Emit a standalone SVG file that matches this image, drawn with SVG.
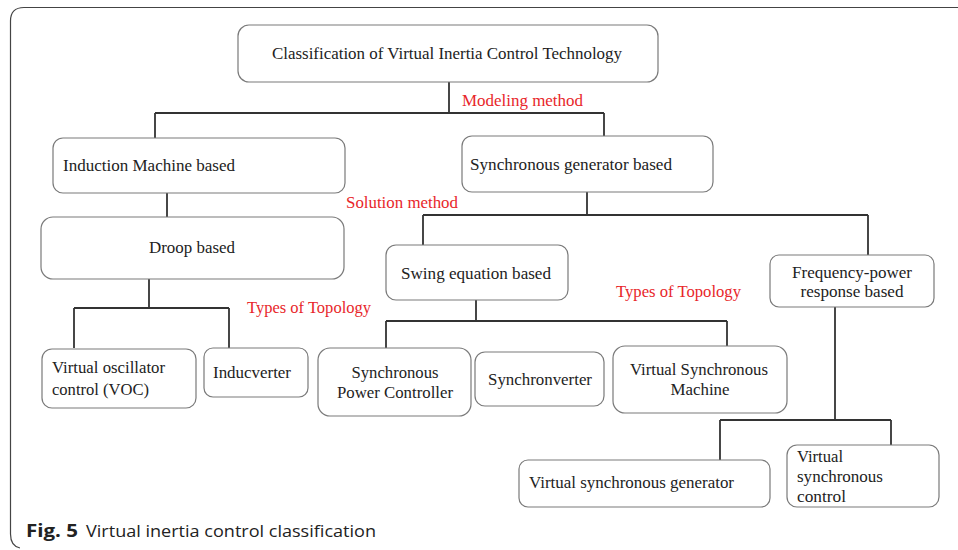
<svg xmlns="http://www.w3.org/2000/svg" width="958" height="550" viewBox="0 0 958 550">
<style>
.box{fill:#fff;stroke:#7a7a7a;stroke-width:1.2}
.t{font-family:"Liberation Serif","Times New Roman",serif;font-size:16px;fill:#222}
.m{text-anchor:middle}
.r{font-family:"Liberation Serif","Times New Roman",serif;font-size:16px;fill:#e8262a}
.c{fill:none;stroke:#333;stroke-width:1.8}
.cap{font-family:"Open Sans","Noto Sans","Liberation Sans",sans-serif;font-size:17px;fill:#222}
</style>
<rect width="958" height="550" fill="#fff"/>
<path d="M958 7.5 H24 Q10.5 7.5 10.5 21 V534 Q10.5 546 20 548" fill="none" stroke="#444" stroke-width="1.2"/>
<g id="connectors">
<path class="c" d="M449 82 V113 M155 113 H604 M155 113 V138 M604 113 V137"/>
<path class="c" d="M167 193 V217"/>
<path class="c" d="M587 192 V215 M423 215 H868 M423 215 V245 M868 215 V255"/>
<path class="c" d="M149 279 V308 M74 308 H229 M74 308 V348 M229 308 V348"/>
<path class="c" d="M476 300 V321 M386 321 H727 M386 321 V348 M727 321 V346"/>
<path class="c" d="M835 307 V420 M720 420 H891 M720 420 V460 M891 420 V445"/>
</g>
<g id="labels">
<text class="r" x="462" y="106" textLength="121" lengthAdjust="spacingAndGlyphs">Modeling method</text>
<text class="r" x="346" y="208" textLength="112" lengthAdjust="spacingAndGlyphs">Solution method</text>
<text class="r" x="247" y="313" textLength="124" lengthAdjust="spacingAndGlyphs">Types of Topology</text>
<text class="r" x="616" y="297" textLength="125" lengthAdjust="spacingAndGlyphs">Types of Topology</text>
</g>
<g id="root">
<rect class="box" x="238" y="25" width="420" height="57" rx="11"/>
<text class="t" x="272" y="59" textLength="350" lengthAdjust="spacingAndGlyphs">Classification of Virtual Inertia Control Technology</text>
</g>
<g id="induction">
<rect class="box" x="53" y="138" width="292" height="55" rx="10"/>
<text class="t" x="63" y="171" textLength="172" lengthAdjust="spacingAndGlyphs">Induction Machine based</text>
</g>
<g id="syncgen">
<rect class="box" x="462" y="136" width="251" height="56" rx="10"/>
<text class="t" x="470" y="170" textLength="202" lengthAdjust="spacingAndGlyphs">Synchronous generator based</text>
</g>
<g id="droop">
<rect class="box" x="41" y="217" width="303" height="62" rx="12"/>
<text class="t" x="149" y="253" textLength="86" lengthAdjust="spacingAndGlyphs">Droop based</text>
</g>
<g id="swing">
<rect class="box" x="386" y="245" width="182" height="55" rx="10"/>
<text class="t" x="401" y="279" textLength="150" lengthAdjust="spacingAndGlyphs">Swing equation based</text>
</g>
<g id="freqpower">
<rect class="box" x="770" y="255" width="164" height="52" rx="9"/>
<text class="t m" x="852" y="278" textLength="120" lengthAdjust="spacingAndGlyphs">Frequency-power</text>
<text class="t m" x="852" y="297" textLength="103" lengthAdjust="spacingAndGlyphs">response based</text>
</g>
<g id="voc">
<rect class="box" x="42" y="349" width="154" height="59" rx="10"/>
<text class="t" x="52" y="373" textLength="113" lengthAdjust="spacingAndGlyphs">Virtual oscillator</text>
<text class="t" x="52" y="395" textLength="97" lengthAdjust="spacingAndGlyphs">control (VOC)</text>
</g>
<g id="inducverter">
<rect class="box" x="204" y="348" width="104" height="49" rx="9"/>
<text class="t" x="213" y="378" textLength="78" lengthAdjust="spacingAndGlyphs">Inducverter</text>
</g>
<g id="spc">
<rect class="box" x="318" y="348" width="153" height="68" rx="12"/>
<text class="t m" x="395" y="378" textLength="87" lengthAdjust="spacingAndGlyphs">Synchronous</text>
<text class="t m" x="395" y="398" textLength="116" lengthAdjust="spacingAndGlyphs">Power Controller</text>
</g>
<g id="synchronverter">
<rect class="box" x="475" y="352" width="129" height="54" rx="10"/>
<text class="t m" x="540" y="385" textLength="104" lengthAdjust="spacingAndGlyphs">Synchronverter</text>
</g>
<g id="vsm">
<rect class="box" x="613" y="346" width="174" height="67" rx="12"/>
<text class="t m" x="699" y="375" textLength="138" lengthAdjust="spacingAndGlyphs">Virtual Synchronous</text>
<text class="t m" x="700" y="395" textLength="59" lengthAdjust="spacingAndGlyphs">Machine</text>
</g>
<g id="vsg">
<rect class="box" x="519" y="460" width="251" height="47" rx="9"/>
<text class="t" x="529" y="488" textLength="205" lengthAdjust="spacingAndGlyphs">Virtual synchronous generator</text>
</g>
<g id="vsc">
<rect class="box" x="787" y="445" width="152" height="62" rx="10"/>
<text class="t" x="797" y="462" textLength="46" lengthAdjust="spacingAndGlyphs">Virtual</text>
<text class="t" x="797" y="482" textLength="86" lengthAdjust="spacingAndGlyphs">synchronous</text>
<text class="t" x="797" y="502" textLength="49" lengthAdjust="spacingAndGlyphs">control</text>
</g>
<g id="caption">
<text class="cap" x="26" y="537"><tspan font-weight="bold" textLength="52" lengthAdjust="spacingAndGlyphs">Fig. 5</tspan></text>
<text class="cap" x="86" y="537" textLength="290" lengthAdjust="spacingAndGlyphs">Virtual inertia control classification</text>
</g>
</svg>
